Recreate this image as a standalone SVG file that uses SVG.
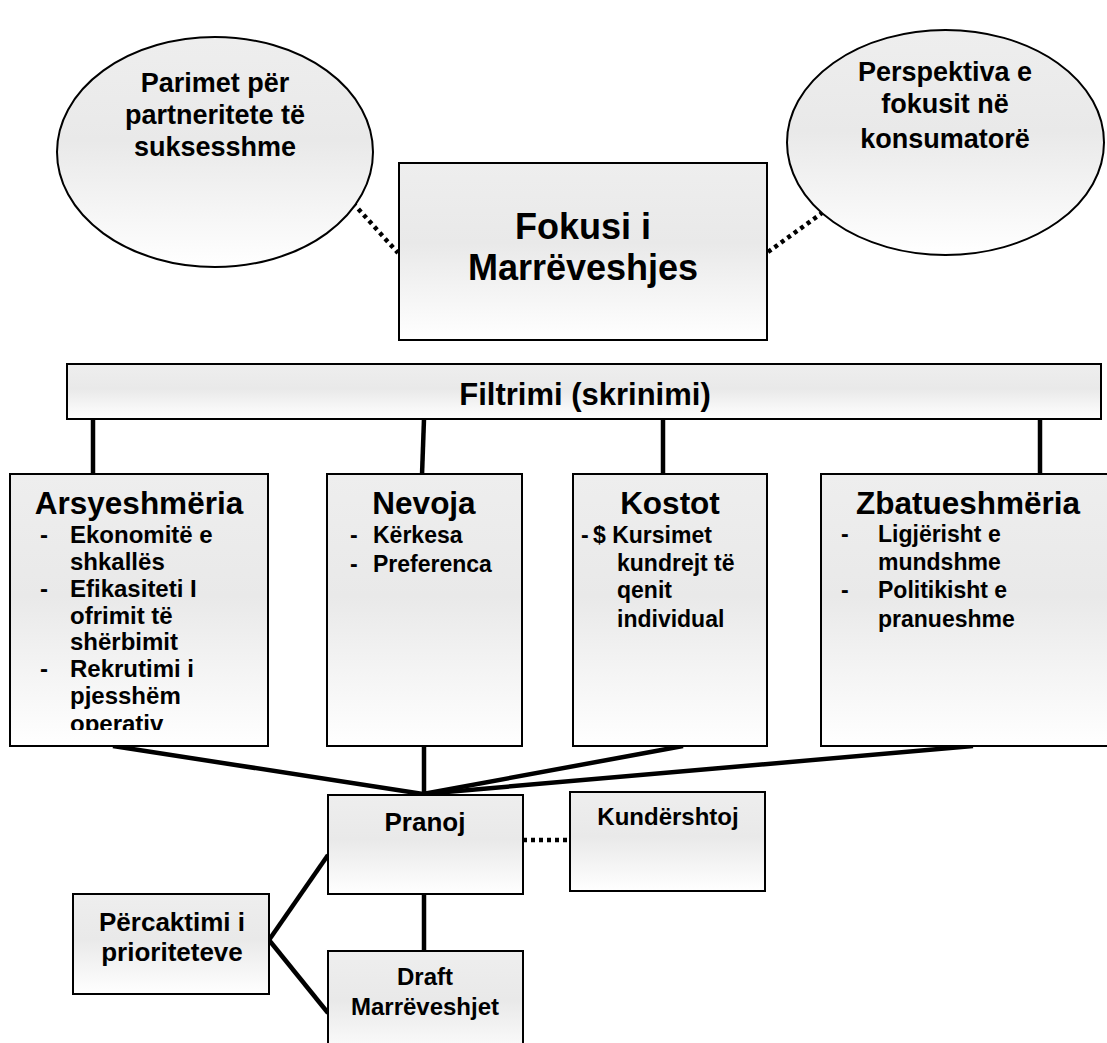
<svg xmlns="http://www.w3.org/2000/svg" width="1107" height="1043" viewBox="0 0 1107 1043">
<style>
text{font-family:"Liberation Sans",Arial,sans-serif;font-weight:bold;fill:#000}
.shape{fill:url(#g);stroke:#000;stroke-width:2}
.c{stroke:#000;stroke-width:4.5;fill:none}
.d{stroke:#000;stroke-width:4.5;fill:none;stroke-dasharray:4 4}
.ell{font-size:27px;text-anchor:middle}
.title{font-size:31.5px;text-anchor:middle}
.item{font-size:23px}
.item1{font-size:24px}
.small{font-size:24px;text-anchor:middle}
</style>
<defs>
<linearGradient id="g" x1="0" y1="0" x2="0" y2="1">
<stop offset="0" stop-color="#eeeeee"/>
<stop offset="0.45" stop-color="#e9e9e9"/>
<stop offset="1" stop-color="#ffffff"/>
</linearGradient>
<clipPath id="clip1"><rect x="10" y="474" width="258" height="256"/></clipPath>
</defs>
<g id="connectors">
<line class="d" x1="353" y1="203" x2="398" y2="253"/>
<line class="d" x1="768" y1="252" x2="822" y2="213"/>
<line class="c" x1="93" y1="419" x2="93" y2="475"/>
<line class="c" x1="424" y1="419" x2="422" y2="475"/>
<line class="c" x1="663" y1="419" x2="663" y2="475"/>
<line class="c" x1="1040" y1="419" x2="1040" y2="475"/>
<line class="c" x1="113" y1="746" x2="423" y2="794"/>
<line class="c" x1="424" y1="746" x2="424" y2="794"/>
<line class="c" x1="683" y1="746" x2="423" y2="794"/>
<line class="c" x1="973" y1="746" x2="423" y2="794"/>
<line class="d" x1="523" y1="840" x2="570" y2="840"/>
<line class="c" x1="424" y1="894" x2="424" y2="951"/>
<line class="c" x1="269" y1="940" x2="328" y2="855"/>
<line class="c" x1="269" y1="940" x2="328" y2="1013"/>
</g>
<g id="ellipse-left">
<ellipse class="shape" cx="215" cy="152" rx="158" ry="115"/>
<text class="ell" x="215" y="92">Parimet për</text>
<text class="ell" x="215" y="124">partneritete të</text>
<text class="ell" x="215" y="156">suksesshme</text>
</g>
<g id="ellipse-right">
<ellipse class="shape" cx="945.5" cy="142.5" rx="158.5" ry="112.5"/>
<text class="ell" x="945" y="81">Perspektiva e</text>
<text class="ell" x="945" y="113">fokusit në</text>
<text class="ell" x="945" y="148">konsumatorë</text>
</g>
<g id="focus">
<rect class="shape" x="399" y="163" width="368" height="177"/>
<text x="583" y="239" style="font-size:36px;text-anchor:middle">Fokusi i</text>
<text x="583" y="280" style="font-size:36px;text-anchor:middle">Marrëveshjes</text>
</g>
<g id="filter">
<rect class="shape" x="67" y="364" width="1034" height="55"/>
<text x="585" y="405" style="font-size:31px;text-anchor:middle">Filtrimi (skrinimi)</text>
</g>
<g id="arsyeshmeria">
<rect class="shape" x="10" y="474" width="258" height="272"/>
<text class="title" x="139" y="514">Arsyeshmëria</text>
<g clip-path="url(#clip1)">
<text class="item1" x="40" y="543">-</text>
<text class="item1" x="70" y="543">Ekonomitë e</text>
<text class="item1" x="70" y="570">shkallës</text>
<text class="item1" x="40" y="597">-</text>
<text class="item1" x="70" y="597">Efikasiteti I</text>
<text class="item1" x="70" y="624">ofrimit të</text>
<text class="item1" x="70" y="650">shërbimit</text>
<text class="item1" x="40" y="677">-</text>
<text class="item1" x="70" y="677">Rekrutimi i</text>
<text class="item1" x="70" y="704">pjesshëm</text>
<text class="item1" x="70" y="732">operativ</text>
</g>
</g>
<g id="nevoja">
<rect class="shape" x="327" y="474" width="195" height="272"/>
<text class="title" x="424" y="514">Nevoja</text>
<text class="item" x="350" y="543">-</text>
<text class="item" x="373" y="543">Kërkesa</text>
<text class="item" x="350" y="572">-</text>
<text class="item" x="373" y="572">Preferenca</text>
</g>
<g id="kostot">
<rect class="shape" x="573" y="474" width="194" height="272"/>
<text class="title" x="670" y="514">Kostot</text>
<text class="item" x="581" y="543">-</text>
<text class="item" x="593" y="543">$ Kursimet</text>
<text class="item" x="617" y="571">kundrejt të</text>
<text class="item" x="617" y="598">qenit</text>
<text class="item" x="617" y="627">individual</text>
</g>
<g id="zbatueshmeria">
<rect class="shape" x="821" y="474" width="290" height="272"/>
<text class="title" x="968" y="514">Zbatueshmëria</text>
<text class="item" x="841" y="542">-</text>
<text class="item" x="878" y="542">Ligjërisht e</text>
<text class="item" x="878" y="570">mundshme</text>
<text class="item" x="841" y="598">-</text>
<text class="item" x="878" y="598">Politikisht e</text>
<text class="item" x="878" y="627">pranueshme</text>
</g>
<g id="pranoj">
<rect class="shape" x="328" y="795" width="195" height="99"/>
<text class="small" x="425" y="831" style="font-size:26px">Pranoj</text>
</g>
<g id="kundershtoj">
<rect class="shape" x="570" y="792" width="195" height="99"/>
<text class="small" x="668" y="825">Kundërshtoj</text>
</g>
<g id="percaktimi">
<rect class="shape" x="73" y="894" width="196" height="100"/>
<text class="small" x="172" y="931" style="font-size:26px">Përcaktimi i</text>
<text class="small" x="172" y="961" style="font-size:26px">prioriteteve</text>
</g>
<g id="draft">
<rect class="shape" x="328" y="951" width="195" height="110"/>
<text class="small" x="425" y="985">Draft</text>
<text class="small" x="425" y="1015">Marrëveshjet</text>
</g>
</svg>
